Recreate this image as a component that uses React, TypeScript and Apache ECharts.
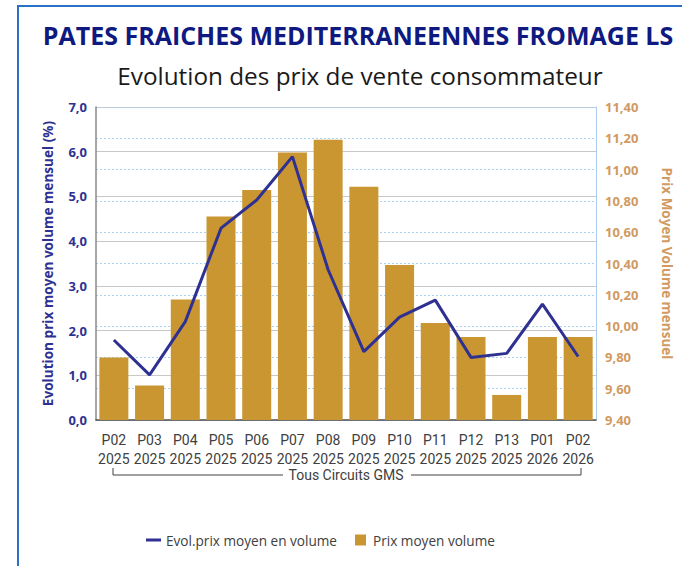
import React, { useEffect, useRef } from "react";
import * as echarts from "echarts";

const periods = ["P02", "P03", "P04", "P05", "P06", "P07", "P08", "P09", "P10", "P11", "P12", "P13", "P01", "P02"];
const years = ["2025", "2025", "2025", "2025", "2025", "2025", "2025", "2025", "2025", "2025", "2025", "2025", "2026", "2026"];
const evolution = [1.79, 1.01, 2.2, 4.29, 4.92, 5.89, 3.36, 1.53, 2.3, 2.68, 1.4, 1.49, 2.59, 1.42];
const prixMoyen = [9.8, 9.62, 10.17, 10.7, 10.87, 11.11, 11.19, 10.89, 10.39, 10.02, 9.93, 9.56, 9.93, 9.93];

const FONT = "Roboto, 'Noto Sans', sans-serif";
const WIDE = "'Open Sans', 'Noto Sans', sans-serif";

export default function App() {
  const ref = useRef<HTMLDivElement>(null);
  useEffect(() => {
    if (!ref.current) return;
    const chart = echarts.init(ref.current, null, { renderer: "svg" });
    const categories = periods.map((p, i) => p + "\n" + years[i]);
    chart.setOption({
      animation: false,
      backgroundColor: "#ffffff",
      textStyle: { fontFamily: FONT },
      title: [
        {
          text: "PATES FRAICHES MEDITERRANEENNES FROMAGE LS",
          left: 353,
          textAlign: "center",
          top: 17,
          textStyle: { fontSize: 25, fontWeight: "bold", color: "#0F1A80", fontFamily: WIDE },
        },
        {
          text: "Evolution des prix de vente consommateur",
          left: 355,
          textAlign: "center",
          top: 58,
          textStyle: { fontSize: 24.3, fontWeight: "normal", color: "#1a1a1a", fontFamily: WIDE },
        },
      ],
      grid: { left: 96, right: 84, top: 107, bottom: 146, containLabel: false },
      legend: {
        top: 528,
        left: 141,
        itemWidth: 15,
        itemHeight: 11,
        itemGap: 18,
        textStyle: { fontSize: 13.6, color: "#404040", fontFamily: WIDE },
        data: [
          { name: "Evol.prix moyen en volume", icon: "path://M0,0h15v3h-15z" },
          { name: "Prix moyen volume", icon: "path://M0,0h10v10h-10z" },
        ],
      },
      xAxis: {
        type: "category",
        data: categories,
        axisTick: { show: false },
        axisLine: { lineStyle: { color: "#505050", width: 1.5 } },
        axisLabel: { fontSize: 14, color: "#404040", lineHeight: 19, margin: 10, interval: 0, fontFamily: FONT },
      },
      yAxis: [
        {
          type: "value",
          min: 0,
          max: 7,
          interval: 1,
          name: "Evolution prix moyen volume mensuel (%)",
          nameLocation: "middle",
          nameRotate: 90,
          nameGap: 42,
          nameTextStyle: { fontSize: 13.6, fontWeight: "bold", color: "#2E3192", fontFamily: WIDE },
          axisLine: { show: true, lineStyle: { color: "#888888", width: 1.5 } },
          axisTick: { show: false },
          axisLabel: {
            fontSize: 13,
            fontWeight: "bold",
            color: "#2E3192",
            margin: 9,
            fontFamily: WIDE,
            formatter: (v: number) => v.toFixed(1).replace(".", ","),
          },
          splitLine: { show: true, lineStyle: { color: "#C8C8C8", width: 1.2 } },
        },
        {
          type: "value",
          min: 9.4,
          max: 11.4,
          interval: 0.2,
          position: "right",
          name: "Prix Moyen Volume mensuel",
          nameLocation: "middle",
          nameRotate: -90,
          nameGap: 64,
          nameTextStyle: { fontSize: 13.5, fontWeight: "bold", color: "#D09A62", fontFamily: WIDE },
          axisLine: { show: true, lineStyle: { color: "#A9CCF0", width: 1 } },
          axisTick: { show: false },
          axisLabel: {
            fontSize: 13,
            fontWeight: "bold",
            color: "#D09A62",
            margin: 9,
            fontFamily: WIDE,
            formatter: (v: number) => v.toFixed(2).replace(".", ","),
          },
          splitLine: { show: true, lineStyle: { color: "#A9D3F5", width: 1, type: [2, 2] } },
        },
      ],
      series: [
        {
          name: "Prix moyen volume",
          type: "bar",
          yAxisIndex: 1,
          data: prixMoyen,
          barWidth: 29,
          itemStyle: { color: "#C99632" },
          z: 2,
        },
        {
          name: "Evol.prix moyen en volume",
          type: "line",
          yAxisIndex: 0,
          data: evolution,
          symbol: "none",
          lineStyle: { color: "#2E3192", width: 3 },
          itemStyle: { color: "#2E3192" },
          z: 3,
        },
      ],
      graphic: [
        {
          type: "rect",
          shape: { x: 18, y: 6, width: 700, height: 600 },
          style: { fill: "none", stroke: "#2A72C8", lineWidth: 2 },
          silent: true,
        },
        {
          type: "polyline",
          shape: { points: [[113, 468], [113, 475], [283, 475]] },
          style: { fill: "none", stroke: "#404040", lineWidth: 1 },
          silent: true,
        },
        {
          type: "polyline",
          shape: { points: [[411, 475], [581, 475], [581, 468]] },
          style: { fill: "none", stroke: "#404040", lineWidth: 1 },
          silent: true,
        },
        {
          type: "text",
          x: 346,
          y: 475,
          style: {
            text: "Tous Circuits GMS",
            fontSize: 14,
            fill: "#404040",
            fontFamily: FONT,
            align: "center",
            verticalAlign: "middle",
          },
          silent: true,
        },
      ],
    });
    return () => chart.dispose();
  }, []);
  return <div ref={ref} style={{ position: "fixed", left: 0, top: 0, width: 682, height: 566 }} />;
}
